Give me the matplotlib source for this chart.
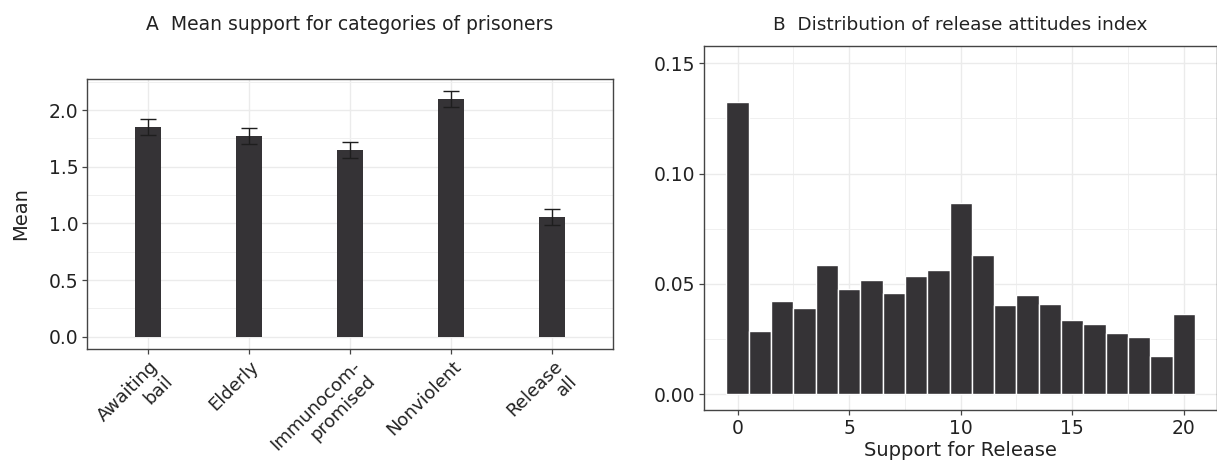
import matplotlib
matplotlib.use('Agg')
import matplotlib.pyplot as plt
from matplotlib.ticker import MultipleLocator
from matplotlib.transforms import ScaledTranslation

plt.rcParams['font.family'] = ['DejaVu Sans']

# Panel A: mean support by category
categories = ["Awaiting\nbail", "Elderly", "Immunocom-\npromised", "Nonviolent", "Release\nall"]
means = [1.85, 1.77, 1.645, 2.095, 1.055]
errs = [0.073, 0.072, 0.07, 0.07, 0.07]

# Panel B: distribution of release attitudes index
support = list(range(21))
density = [0.1324, 0.0289, 0.0421, 0.0393, 0.0588, 0.0479, 0.0520, 0.0461, 0.0538,
           0.0565, 0.0868, 0.0629, 0.0403, 0.0448, 0.0407, 0.0335, 0.0317, 0.0276,
           0.0258, 0.0172, 0.0362]

bar_col = '#353336'
txt_col = '#222222'
spine_col = '#444444'


def style(ax):
    for s in ax.spines.values():
        s.set_color(spine_col)
        s.set_linewidth(1.0)
    ax.tick_params(which='major', length=3.5, width=0.9, color=spine_col,
                   labelsize=13.5, labelcolor=txt_col, pad=3)
    ax.tick_params(which='minor', length=0)
    ax.grid(which='major', color='#ebebeb', linewidth=1.0)
    ax.grid(which='minor', color='#f0f0f0', linewidth=0.7)
    ax.set_axisbelow(True)


fig = plt.figure(figsize=(12.17, 4.62), dpi=100)

# ---- Panel A
axA = fig.add_axes([0.0717, 0.2446, 0.4317, 0.5844])
xpos = list(range(len(categories)))
axA.bar(xpos, means, width=0.25, color=bar_col, zorder=2)
axA.errorbar(xpos, means, yerr=errs, fmt='none', ecolor='#1e1e1e',
             elinewidth=1.0, capsize=5.8, capthick=1.0, zorder=3)
axA.set_xlim(-0.6, 4.6)
axA.set_ylim(-0.1085, 2.2735)
axA.yaxis.set_major_locator(MultipleLocator(0.5))
axA.yaxis.set_minor_locator(MultipleLocator(0.25))
axA.yaxis.set_major_formatter(plt.FormatStrFormatter('%.1f'))
axA.set_xticks(xpos)
axA.set_xticklabels(categories, rotation=45, ha='right', va='top',
                    rotation_mode='anchor', multialignment='right')
style(axA)
axA.tick_params(axis='x', labelsize=13)
shift = ScaledTranslation(1 / 100, 1 / 100, fig.dpi_scale_trans)
for lab in axA.get_xticklabels():
    lab.set_transform(lab.get_transform() + shift)
axA.set_ylabel("Mean", fontsize=14, color=txt_col, labelpad=13)
fig.text(0.2876, 1 - 25 / 462, "A  Mean support for categories of prisoners",
         ha='center', va='center', fontsize=13.5, color=txt_col)

# ---- Panel B
axB = fig.add_axes([0.5787, 0.1119, 0.4213, 0.7885])
axB.bar(support, density, width=1.0, color=bar_col, edgecolor='white',
        linewidth=1.0, zorder=2)
axB.set_xlim(-1.496, 21.49)
axB.set_ylim(-0.00725, 0.1578)
axB.xaxis.set_major_locator(MultipleLocator(5))
axB.xaxis.set_minor_locator(MultipleLocator(2.5))
axB.yaxis.set_major_locator(MultipleLocator(0.05))
axB.yaxis.set_minor_locator(MultipleLocator(0.025))
axB.yaxis.set_major_formatter(plt.FormatStrFormatter('%.2f'))
style(axB)
axB.set_xlabel("Support for Release", fontsize=14, color=txt_col, labelpad=2)
fig.text(0.7893, 1 - 25 / 462, "B  Distribution of release attitudes index",
         ha='center', va='center', fontsize=13.3, color=txt_col)

fig.savefig("out.png", dpi=100)
plt.close(fig)
